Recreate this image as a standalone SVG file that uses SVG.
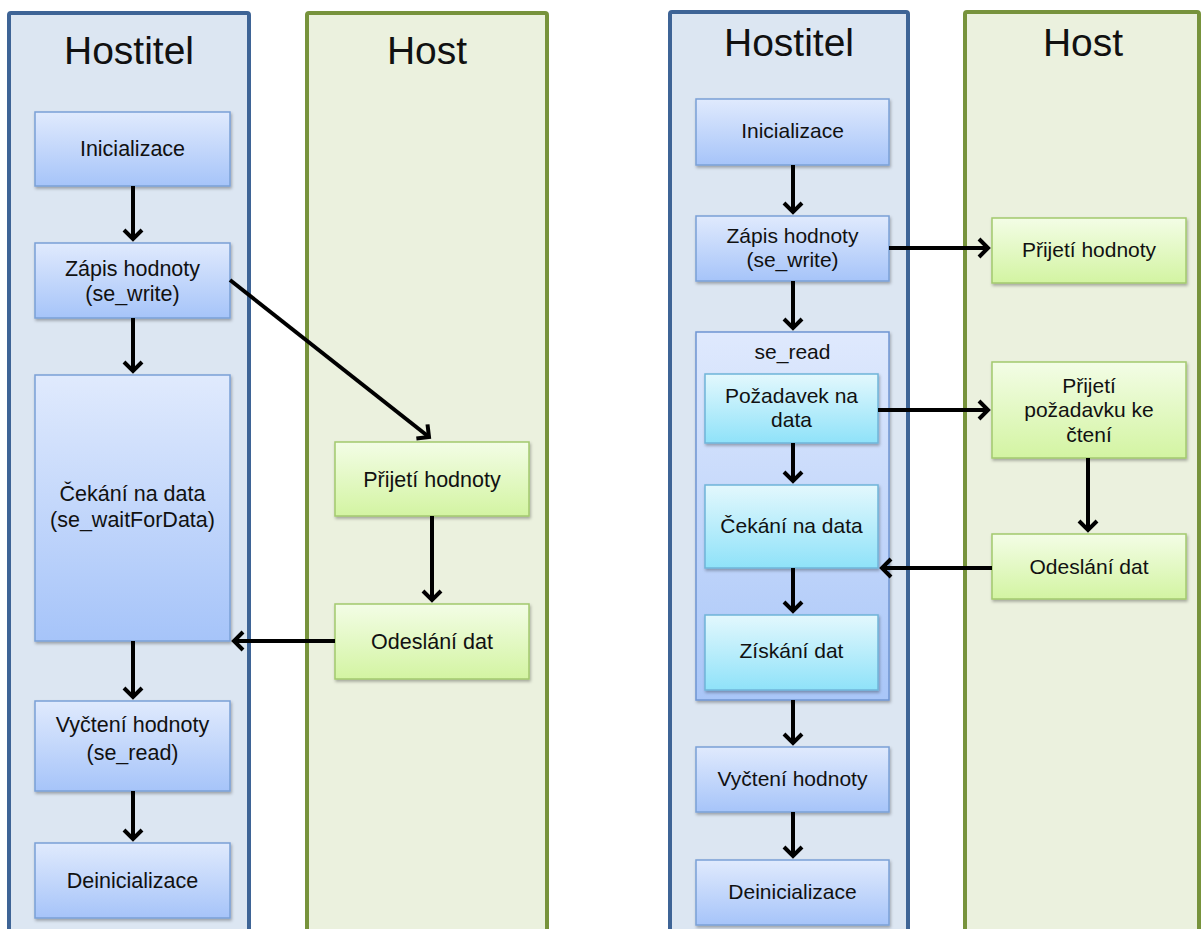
<svg xmlns="http://www.w3.org/2000/svg" width="1201" height="929" viewBox="0 0 1201 929">
<defs>
  <linearGradient id="gBlue" x1="0" y1="0" x2="0" y2="1">
    <stop offset="0" stop-color="#e0eafd"/>
    <stop offset="1" stop-color="#a6c4f9"/>
  </linearGradient>
  <linearGradient id="gGreen" x1="0" y1="0" x2="0" y2="1">
    <stop offset="0" stop-color="#f3fde6"/>
    <stop offset="1" stop-color="#d3f4a2"/>
  </linearGradient>
  <linearGradient id="gCyan" x1="0" y1="0" x2="0" y2="1">
    <stop offset="0" stop-color="#e3f8fd"/>
    <stop offset="1" stop-color="#8fe2f9"/>
  </linearGradient>
  <linearGradient id="gCont" x1="0" y1="0" x2="0" y2="1">
    <stop offset="0" stop-color="#dfe9fd"/>
    <stop offset="1" stop-color="#a9c6f8"/>
  </linearGradient>
  <filter id="sh" x="-10%" y="-10%" width="125%" height="130%">
    <feDropShadow dx="1" dy="2" stdDeviation="1.5" flood-color="#000" flood-opacity="0.3"/>
  </filter>
  <marker id="arr" markerUnits="userSpaceOnUse" viewBox="-14 -14 19 28" markerWidth="19" markerHeight="28" refX="0" refY="0" orient="auto">
    <path d="M-9,-9 L0,0 L-9,9" fill="none" stroke="#000" stroke-width="4"/>
  </marker>
  <style>
    .laneB{fill:#dce6f2;stroke:#3e6496;stroke-width:4}
    .laneG{fill:#ebf1de;stroke:#77933c;stroke-width:4}
    .bb{fill:url(#gBlue);stroke:#7aa0d6;stroke-width:1.5;filter:url(#sh)}
    .gb{fill:url(#gGreen);stroke:#a3c96e;stroke-width:1.5;filter:url(#sh)}
    .cb{fill:url(#gCyan);stroke:#6fb4d9;stroke-width:1.5;filter:url(#sh)}
    .cont{fill:url(#gCont);stroke:#6f95d2;stroke-width:1.5;filter:url(#sh)}
    text{font-family:"Liberation Sans",Arial,sans-serif;fill:#111;text-anchor:middle}
    .title{font-size:39px}
    .t{font-size:21.5px}
    .tr{font-size:21px}
    .c line{stroke:#000;stroke-width:4;marker-end:url(#arr)}
  </style>
</defs>
<rect width="1201" height="929" fill="#fff"/>

<g id="lane-left-hostitel">
  <rect class="laneB" x="9" y="13" width="240" height="950" rx="2"/>
  <text class="title" x="129" y="64">Hostitel</text>
</g>
<g id="lane-left-host">
  <rect class="laneG" x="307" y="13" width="240" height="950" rx="2"/>
  <text class="title" x="427" y="64">Host</text>
</g>
<g id="lane-right-hostitel">
  <rect class="laneB" x="670" y="12" width="238" height="950" rx="2"/>
  <text class="title" x="789" y="56">Hostitel</text>
</g>
<g id="lane-right-host">
  <rect class="laneG" x="965" y="12" width="234" height="950" rx="2"/>
  <text class="title" x="1083" y="56">Host</text>
</g>

<!-- Left diagram nodes -->
<g id="L-init">
  <rect class="bb" x="35" y="112" width="195" height="74"/>
  <text class="t" x="132.5" y="156">Inicializace</text>
</g>
<g id="L-write">
  <rect class="bb" x="35" y="243" width="195" height="75"/>
  <text class="t" x="132.5" y="276">Zápis hodnoty</text>
  <text class="t" x="132.5" y="301">(se_write)</text>
</g>
<g id="L-wait">
  <rect class="bb" x="35" y="375" width="195" height="266"/>
  <text class="t" x="132.5" y="501">Čekání na data</text>
  <text class="t" x="132.5" y="527">(se_waitForData)</text>
</g>
<g id="L-read">
  <rect class="bb" x="35" y="701" width="195" height="90"/>
  <text class="t" x="132.5" y="732">Vyčtení hodnoty</text>
  <text class="t" x="132.5" y="760">(se_read)</text>
</g>
<g id="L-deinit">
  <rect class="bb" x="35" y="843" width="195" height="75"/>
  <text class="t" x="132.5" y="888">Deinicializace</text>
</g>
<g id="L-recv">
  <rect class="gb" x="335" y="442" width="194" height="74"/>
  <text class="t" x="432" y="487">Přijetí hodnoty</text>
</g>
<g id="L-send">
  <rect class="gb" x="335" y="604" width="194" height="75"/>
  <text class="t" x="432" y="649">Odeslání dat</text>
</g>

<!-- Right diagram nodes -->
<g id="R-init">
  <rect class="bb" x="696" y="99" width="193" height="66"/>
  <text class="tr" x="792.5" y="138">Inicializace</text>
</g>
<g id="R-write">
  <rect class="bb" x="696" y="216" width="193" height="65"/>
  <text class="tr" x="792.5" y="243">Zápis hodnoty</text>
  <text class="tr" x="792.5" y="267">(se_write)</text>
</g>
<g id="R-se_read">
  <rect class="cont" x="696" y="332" width="193" height="368"/>
  <text class="tr" x="792.5" y="359">se_read</text>
</g>
<g id="R-request">
  <rect class="cb" x="705" y="374" width="173" height="69"/>
  <text class="tr" x="791.5" y="403">Požadavek na</text>
  <text class="tr" x="791.5" y="427">data</text>
</g>
<g id="R-wait">
  <rect class="cb" x="705" y="485" width="173" height="83"/>
  <text class="tr" x="791.5" y="533">Čekání na data</text>
</g>
<g id="R-get">
  <rect class="cb" x="705" y="615" width="173" height="75"/>
  <text class="tr" x="791.5" y="658">Získání dat</text>
</g>
<g id="R-read">
  <rect class="bb" x="696" y="747" width="193" height="65"/>
  <text class="tr" x="792.5" y="786">Vyčtení hodnoty</text>
</g>
<g id="R-deinit">
  <rect class="bb" x="696" y="860" width="193" height="65"/>
  <text class="tr" x="792.5" y="899">Deinicializace</text>
</g>
<g id="R-recv">
  <rect class="gb" x="992" y="218" width="194" height="65"/>
  <text class="tr" x="1089" y="257">Přijetí hodnoty</text>
</g>
<g id="R-recvreq">
  <rect class="gb" x="992" y="362" width="194" height="96"/>
  <text class="tr" x="1089" y="393">Přijetí</text>
  <text class="tr" x="1089" y="417">požadavku ke</text>
  <text class="tr" x="1089" y="442">čtení</text>
</g>
<g id="R-send">
  <rect class="gb" x="992" y="534" width="194" height="65"/>
  <text class="tr" x="1089" y="574">Odeslání dat</text>
</g>

<g id="connectors" class="c">
  <line x1="133" y1="186" x2="133" y2="239"/>
  <line x1="133" y1="318" x2="133" y2="371"/>
  <line x1="133" y1="641" x2="133" y2="697"/>
  <line x1="133" y1="791" x2="133" y2="839"/>
  <line x1="230" y1="280" x2="429" y2="437"/>
  <line x1="432" y1="516" x2="432" y2="600"/>
  <line x1="335" y1="641" x2="234" y2="641"/>

  <line x1="793" y1="165" x2="793" y2="212"/>
  <line x1="793" y1="281" x2="793" y2="328"/>
  <line x1="889" y1="248" x2="988" y2="248"/>
  <line x1="793" y1="443" x2="793" y2="481"/>
  <line x1="878" y1="410" x2="988" y2="410"/>
  <line x1="1088" y1="458" x2="1088" y2="530"/>
  <line x1="992" y1="568" x2="882" y2="568"/>
  <line x1="793" y1="568" x2="793" y2="611"/>
  <line x1="793" y1="700" x2="793" y2="743"/>
  <line x1="793" y1="812" x2="793" y2="856"/>
</g>
</svg>
